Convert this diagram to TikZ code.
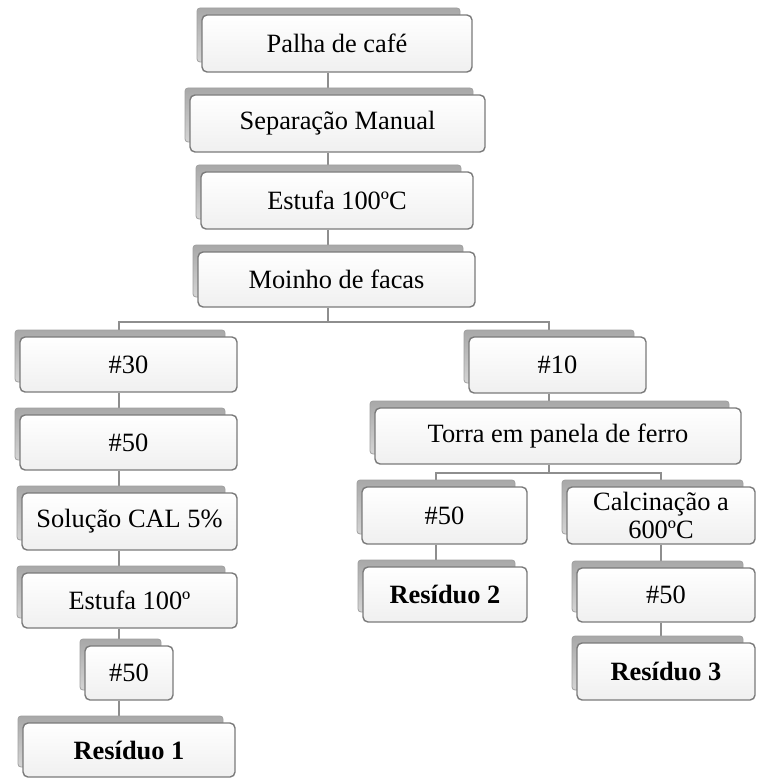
\documentclass[tikz,border=0pt]{standalone}
\usepackage{fontspec}
\setmainfont{Liberation Serif}
\pgfdeclarelayer{background}
\pgfsetlayers{background,main}
\definecolor{conncol}{HTML}{8E8E8E}
\definecolor{edgecol}{HTML}{7A7A7A}
\definecolor{platetop}{HTML}{A8A8A8}
\definecolor{platebot}{HTML}{D4D4D4}
\definecolor{plateedge}{HTML}{A0A0A0}
\tikzset{
  box/.style={draw=edgecol, line width=1.4pt, rounded corners=5pt, top color=white, bottom color=black!6,
    inner sep=0pt, align=center, font=\fontsize{26.4}{27.5}\selectfont},
  plate/.style={top color=platetop, bottom color=platebot, draw=plateedge, line width=0.8pt, rounded corners=3pt},
  conn/.style={draw=conncol, line width=2.2pt},
  bold/.style={font=\fontsize{26.4}{27.5}\selectfont\bfseries}
}
\newcommand\mybox[7][]{%
  \path[plate] (#3-5,#4-7) rectangle (#5-12,#6-10);
  \node[box,#1,minimum width={(#5-#3)*1pt},minimum height={(#6-#4)*1pt}] (#2) at ({(#3+#5)/2},{(#4+#6)/2}) {#7};
}
\begin{document}
\begin{tikzpicture}[x=1pt,y=-1pt]
\useasboundingbox (0,0) rectangle (760,778);
% columns
\coordinate (c1) at (328,0);
\coordinate (cL) at (119,0);
\coordinate (cR) at (549,0);
\coordinate (cM) at (436,0);
\coordinate (cC) at (661,0);
\coordinate (br1) at (328,322);
\coordinate (br2) at (549,473);
% boxes
\mybox{palha}{202}{15}{472}{72}{Palha de café}
\mybox{sep}{190}{95}{485}{152}{Separação Manual}
\mybox{est1}{201}{172}{473}{229}{Estufa 100ºC}
\mybox{moi}{198}{252}{475}{307}{Moinho de facas}
\mybox{n30}{20}{337}{237}{392}{\#30}
\mybox{n10}{469}{337}{646}{393}{\#10}
\mybox{torra}{375}{408}{741}{464}{Torra em panela de ferro}
\mybox{n50a}{20}{415}{237}{470}{\#50}
\mybox{sol}{22}{493}{237}{550}{Solução CAL 5\%}
\mybox{est2}{22}{573}{237}{628}{Estufa 100º}
\mybox{n50b}{85}{646}{173}{700}{\#50}
\mybox[bold]{res1}{23}{723}{235}{777}{Resíduo 1}
\mybox{n50c}{362}{487}{527}{544}{\#50}
\mybox{calc}{567}{487}{755}{544}{Calcinação a\\600ºC}
\mybox[bold]{res2}{363}{567}{527}{622}{Resíduo 2}
\mybox{n50d}{577}{568}{755}{622}{\#50}
\mybox[bold]{res3}{577}{643}{755}{700}{Resíduo 3}
% connectors
\begin{pgfonlayer}{background}
\draw[conn] (palha.south -| c1) -- (sep.north -| c1);
\draw[conn] (sep.south -| c1) -- (est1.north -| c1);
\draw[conn] (est1.south -| c1) -- (moi.north -| c1);
\draw[conn] (moi.south -| c1) -- (br1);
\draw[conn] (n30.north -| cL) |- (br1) -| (n10.north -| cR);
\draw[conn] (n30.south -| cL) -- (n50a.north -| cL);
\draw[conn] (n50a.south -| cL) -- (sol.north -| cL);
\draw[conn] (sol.south -| cL) -- (est2.north -| cL);
\draw[conn] (est2.south -| cL) -- (n50b.north -| cL);
\draw[conn] (n50b.south -| cL) -- (res1.north -| cL);
\draw[conn] (n10.south -| cR) -- (torra.north -| cR);
\draw[conn] (torra.south -| cR) -- (br2);
\draw[conn] (n50c.north -| cM) |- (br2) -| (calc.north -| cC);
\draw[conn] (n50c.south -| cM) -- (res2.north -| cM);
\draw[conn] (calc.south -| cC) -- (n50d.north -| cC);
\draw[conn] (n50d.south -| cC) -- (res3.north -| cC);
\end{pgfonlayer}
\end{tikzpicture}
\end{document}
